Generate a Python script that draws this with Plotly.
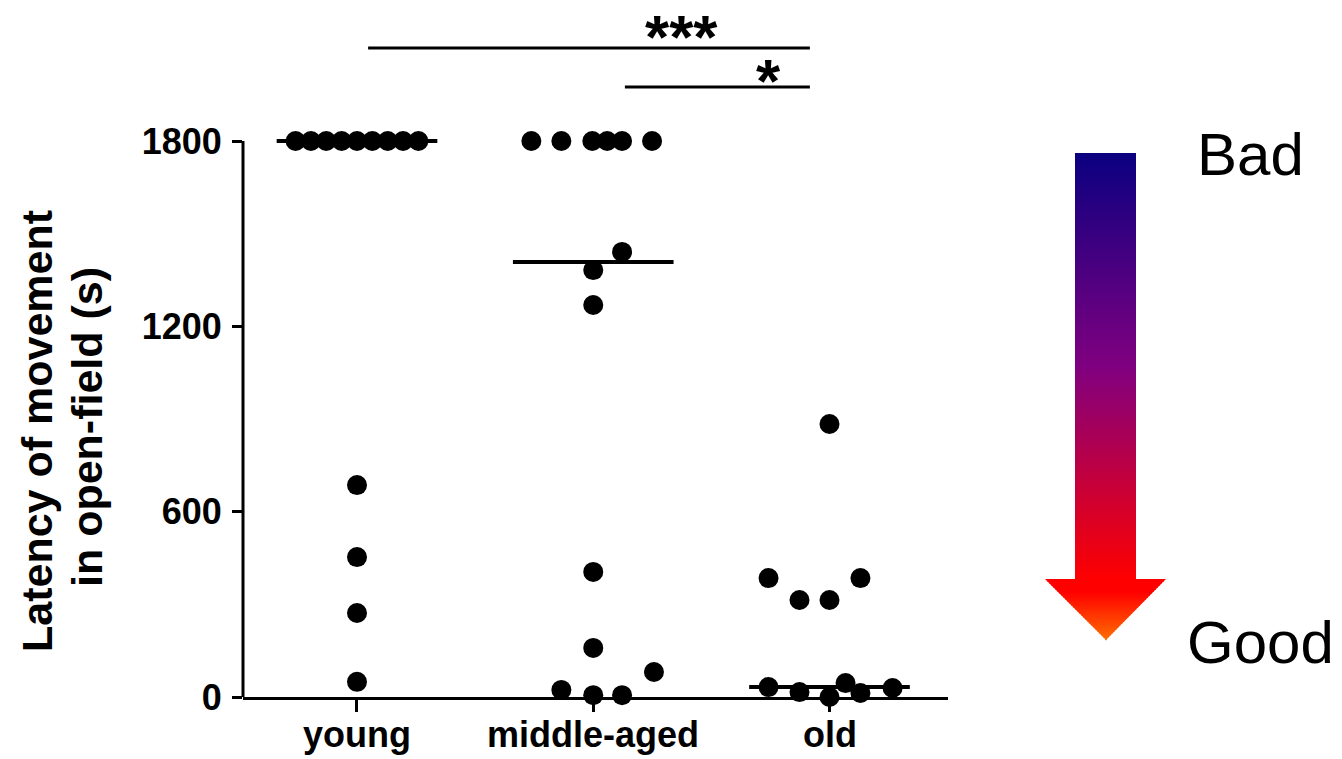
import plotly.graph_objects as go

# ---------------- data ----------------
categories = ["young", "middle-aged", "old"]

young_vals = [1800, 1800, 1800, 1800, 1800, 1800, 1800, 1800, 1800, 686, 453, 272, 49]
young_offsets = [-0.26, -0.195, -0.13, -0.065, 0.0, 0.065, 0.13, 0.195, 0.26, 0.0, 0.0, 0.0, 0.0]

middle_vals = [1800, 1800, 1800, 1800, 1800, 1800, 1441, 1382, 1269, 405, 159, 81, 23, 6, 6]
middle_offsets = [-0.262, -0.135, -0.004, 0.059, 0.122, 0.249, 0.122, 0.0, 0.0, 0.0, 0.0, 0.257, -0.135, 0.0, 0.122]

old_vals = [884, 385, 314, 314, 385, 32, 16, 0, 45, 13, 29]
old_offsets = [0.0, -0.258, -0.127, 0.0, 0.131, -0.258, -0.127, 0.0, 0.068, 0.131, 0.267]

medians = [1800, 1408, 32]
y_ticks = [0, 600, 1200, 1800]

sig_labels = ["***", "*"]
y_title_lines = ["Latency of movement", "in open-field (s)"]

# ---------------- layout helpers ----------------
W, H = 1342, 759
FONT = "Liberation Sans, Arial, sans-serif"


def px(x):
    return x / W


def py(y):
    return 1 - y / H


fig = go.Figure()

groups = [(young_vals, young_offsets), (middle_vals, middle_offsets), (old_vals, old_offsets)]

# median lines
for i, m in enumerate(medians):
    fig.add_trace(go.Scatter(
        x=[i - 0.34, i + 0.34], y=[m, m], mode="lines",
        line=dict(color="black", width=4), cliponaxis=False,
        showlegend=False, hoverinfo="skip"))

# points
for i, (vals, offs) in enumerate(groups):
    fig.add_trace(go.Scatter(
        x=[i + o for o in offs], y=vals, mode="markers",
        marker=dict(color="black", size=20, line=dict(width=0)),
        cliponaxis=False, showlegend=False, name=categories[i]))

shapes = []
# y axis line (only up to 1800)
shapes.append(dict(type="line", xref="paper", yref="y", x0=px(243), x1=px(243),
                   y0=0, y1=1800, line=dict(color="black", width=3)))

# significance bars
shapes.append(dict(type="line", xref="x", yref="y", x0=0.047, x1=1.917, y0=2101, y1=2101,
                   line=dict(color="black", width=3)))
shapes.append(dict(type="line", xref="x", yref="y", x0=1.134, x1=1.917, y0=1975, y1=1975,
                   line=dict(color="black", width=3)))

# gradient arrow (decoration) drawn as thin strips
c_top = (11, 0, 128)
c_mid = (128, 0, 128)
c_red = (255, 0, 0)
c_tip = (255, 112, 0)


def lerp(a, b, t):
    t = max(0.0, min(1.0, t))
    return tuple(int(round(a[k] + (b[k] - a[k]) * t)) for k in range(3))


def shaft_color(t):
    if t < 0.5:
        return lerp(c_top, c_mid, t / 0.5)
    return lerp(c_mid, c_red, (t - 0.5) / 0.5)


shaft_l, shaft_r, shaft_t, head_y = 1075, 1136, 153, 579
head_l, head_r, tip_x, tip_y = 1045, 1166, 1106, 640
step = 2
y = shaft_t
while y < head_y:
    y2 = min(y + step, head_y)
    c = shaft_color((y - shaft_t) / (head_y - shaft_t))
    shapes.append(dict(type="rect", xref="paper", yref="paper",
                       x0=px(shaft_l), x1=px(shaft_r), y0=py(y), y1=py(y2 + 0.8),
                       fillcolor="rgb(%d,%d,%d)" % c, line=dict(width=0), layer="above"))
    y = y2
y = head_y
while y < tip_y:
    y2 = min(y + step, tip_y)
    t1 = (y - head_y) / (tip_y - head_y)
    t2 = min((y2 + 0.8 - head_y) / (tip_y - head_y), 1.0)
    if (y - head_y) < 12:
        c = c_red
    else:
        c = lerp(c_red, c_tip, (y - head_y - 12) / (tip_y - head_y - 12))
    l1 = head_l + (tip_x - head_l) * t1
    r1 = head_r + (tip_x - head_r) * t1
    l2 = head_l + (tip_x - head_l) * t2
    r2 = head_r + (tip_x - head_r) * t2
    path = "M %f,%f L %f,%f L %f,%f L %f,%f Z" % (
        px(l1), py(y), px(r1), py(y), px(r2), py(y2 + 0.8), px(l2), py(y2 + 0.8))
    shapes.append(dict(type="path", xref="paper", yref="paper", path=path,
                       fillcolor="rgb(%d,%d,%d)" % c, line=dict(width=0), layer="above"))
    y = y2

annotations = [
    dict(text=y_title_lines[0], textangle=-90,
         x=px(37), y=py(431), xref="paper", yref="paper", xanchor="center", yanchor="middle",
         showarrow=False, font=dict(family=FONT, size=43, color="black", weight="bold")),
    dict(text=y_title_lines[1], textangle=-90,
         x=px(87), y=py(427), xref="paper", yref="paper", xanchor="center", yanchor="middle",
         showarrow=False, font=dict(family=FONT, size=43, color="black", weight="bold")),
    dict(text=sig_labels[0], x=px(681), y=1, xref="paper", yref="paper",
         xanchor="center", yanchor="top", showarrow=False,
         font=dict(family=FONT, size=62, color="black", weight="bold")),
    dict(text=sig_labels[1], x=px(768), y=py(44), xref="paper", yref="paper",
         xanchor="center", yanchor="top", showarrow=False,
         font=dict(family=FONT, size=62, color="black", weight="bold")),
    dict(text="Bad", x=px(1250), y=py(154), xref="paper", yref="paper",
         xanchor="center", yanchor="middle", showarrow=False,
         font=dict(family=FONT, size=60, color="black")),
    dict(text="Good", x=px(1260), y=py(642), xref="paper", yref="paper",
         xanchor="center", yanchor="middle", showarrow=False,
         font=dict(family=FONT, size=60, color="black")),
]

# category labels under the x axis
for i, cat in enumerate(categories):
    annotations.append(dict(text=cat, x=i, y=py(757), xref="x", yref="paper",
                            xanchor="center", yanchor="bottom", showarrow=False,
                            font=dict(family=FONT, size=36, color="black", weight="bold")))

fig.update_layout(
    width=W, height=H, autosize=False,
    margin=dict(l=0, r=0, t=0, b=0, autoexpand=False),
    paper_bgcolor="white", plot_bgcolor="white",
    font=dict(family=FONT, color="black"),
    shapes=shapes, annotations=annotations,
    xaxis=dict(domain=[px(243), px(948)], range=[-0.4825, 2.5016],
               tickvals=[0, 1, 2], showticklabels=False,
               ticks="outside", ticklen=12, tickwidth=3, tickcolor="black",
               showline=True, linewidth=3, linecolor="black",
               showgrid=False, zeroline=False),
    yaxis=dict(domain=[1 - 697 / H, 1], range=[0, 2256.5],
               tickvals=y_ticks, ticktext=[str(v) for v in y_ticks],
               ticks="outside", ticklen=10, tickwidth=3, tickcolor="black",
               showline=False, showgrid=False, zeroline=False,
               ticklabelstandoff=3,
               tickfont=dict(family=FONT, size=36, color="black", weight="bold")),
)

post = ("document.documentElement.style.margin='0';document.body.style.margin='0';"
        "document.documentElement.style.overflow='hidden';document.body.style.overflow='hidden';")
fig.write_html("out.html", config={"responsive": False, "displayModeBar": False}, post_script=post)
